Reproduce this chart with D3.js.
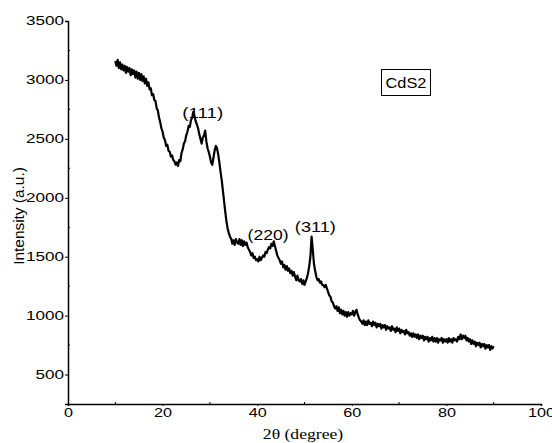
<!DOCTYPE html>
<html>
<head>
<meta charset="utf-8">
<script src="https://cdn.jsdelivr.net/npm/d3@7"></script>
<style>
  body { margin: 0; background: #fff; }
  svg { display: block; }
  text { font-family: "Liberation Sans", Arial, sans-serif; fill: #000; }
</style>
</head>
<body>
<svg id="chart" width="552" height="443"></svg>
<script>
// XRD pattern of CdS2, one row per degree (x.00, x.25, x.50, x.75)
const pattern = [
  [10.00, 3160], [10.25, 3120], [10.50, 3170], [10.75, 3100],
  [11.00, 3150], [11.25, 3090], [11.50, 3130], [11.75, 3080],
  [12.00, 3120], [12.25, 3060], [12.50, 3110], [12.75, 3070],
  [13.00, 3100], [13.25, 3040], [13.50, 3090], [13.75, 3050],
  [14.00, 3080], [14.25, 3020], [14.50, 3070], [14.75, 3010],
  [15.00, 3060], [15.25, 3000], [15.50, 3050], [15.75, 2990],
  [16.00, 3030], [16.25, 2970], [16.50, 3010], [16.75, 2950],
  [17.00, 2980], [17.25, 2920], [17.50, 2930], [17.75, 2870],
  [18.00, 2880], [18.25, 2830], [18.50, 2820], [18.75, 2760],
  [19.00, 2740], [19.25, 2680], [19.50, 2640], [19.75, 2590],
  [20.00, 2560], [20.25, 2510], [20.50, 2490], [20.75, 2440],
  [21.00, 2450], [21.25, 2400], [21.50, 2390], [21.75, 2350],
  [22.00, 2360], [22.25, 2320], [22.50, 2310], [22.75, 2280],
  [23.00, 2300], [23.25, 2270], [23.50, 2320], [23.75, 2310],
  [24.00, 2380], [24.25, 2410], [24.50, 2460], [24.75, 2480],
  [25.00, 2530], [25.25, 2560], [25.50, 2610], [25.75, 2600],
  [26.00, 2660], [26.25, 2680], [26.50, 2730], [26.75, 2690],
  [27.00, 2650], [27.25, 2620], [27.50, 2590], [27.75, 2540],
  [28.00, 2500], [28.25, 2460], [28.50, 2510], [28.75, 2530],
  [29.00, 2570], [29.25, 2480], [29.50, 2420], [29.75, 2390],
  [30.00, 2350], [30.25, 2300], [30.50, 2280], [30.75, 2340],
  [31.00, 2400], [31.25, 2440], [31.50, 2420], [31.75, 2370],
  [32.00, 2300], [32.25, 2220], [32.50, 2150], [32.75, 2060],
  [33.00, 1970], [33.25, 1880], [33.50, 1800], [33.75, 1740],
  [34.00, 1700], [34.25, 1670], [34.50, 1650], [34.75, 1610],
  [35.00, 1640], [35.25, 1600], [35.50, 1650], [35.75, 1620],
  [36.00, 1610], [36.25, 1650], [36.50, 1600], [36.75, 1640],
  [37.00, 1590], [37.25, 1630], [37.50, 1600], [37.75, 1620],
  [38.00, 1580], [38.25, 1560], [38.50, 1540], [38.75, 1510],
  [39.00, 1530], [39.25, 1490], [39.50, 1500], [39.75, 1470],
  [40.00, 1480], [40.25, 1460], [40.50, 1500], [40.75, 1470],
  [41.00, 1490], [41.25, 1510], [41.50, 1500], [41.75, 1540],
  [42.00, 1530], [42.25, 1560], [42.50, 1580], [42.75, 1570],
  [43.00, 1610], [43.25, 1590], [43.50, 1630], [43.75, 1590],
  [44.00, 1550], [44.25, 1510], [44.50, 1490], [44.75, 1470],
  [45.00, 1440], [45.25, 1460], [45.50, 1410], [45.75, 1430],
  [46.00, 1390], [46.25, 1420], [46.50, 1380], [46.75, 1400],
  [47.00, 1360], [47.25, 1380], [47.50, 1340], [47.75, 1370],
  [48.00, 1330], [48.25, 1300], [48.50, 1340], [48.75, 1300],
  [49.00, 1290], [49.25, 1310], [49.50, 1270], [49.75, 1300],
  [50.00, 1260], [50.25, 1290], [50.50, 1320], [50.75, 1360],
  [51.00, 1420], [51.25, 1500], [51.50, 1670], [51.75, 1560],
  [52.00, 1440], [52.25, 1380], [52.50, 1330], [52.75, 1300],
  [53.00, 1310], [53.25, 1280], [53.50, 1290], [53.75, 1260],
  [54.00, 1260], [54.25, 1240], [54.50, 1260], [54.75, 1230],
  [55.00, 1200], [55.25, 1170], [55.50, 1160], [55.75, 1120],
  [56.00, 1110], [56.25, 1080], [56.50, 1060], [56.75, 1080],
  [57.00, 1040], [57.25, 1070], [57.50, 1020], [57.75, 1050],
  [58.00, 1010], [58.25, 1040], [58.50, 1000], [58.75, 1030],
  [59.00, 990], [59.25, 1030], [59.50, 1000], [59.75, 1020],
  [60.00, 1010], [60.25, 1040], [60.50, 1000], [60.75, 1030],
  [61.00, 1050], [61.25, 1010], [61.50, 980], [61.75, 960],
  [62.00, 950], [62.25, 930], [62.50, 960], [62.75, 920],
  [63.00, 950], [63.25, 920], [63.50, 960], [63.75, 930],
  [64.00, 940], [64.25, 910], [64.50, 950], [64.75, 920],
  [65.00, 940], [65.25, 900], [65.50, 930], [65.75, 910],
  [66.00, 930], [66.25, 890], [66.50, 920], [66.75, 900],
  [67.00, 920], [67.25, 880], [67.50, 910], [67.75, 890],
  [68.00, 900], [68.25, 870], [68.50, 910], [68.75, 880],
  [69.00, 890], [69.25, 860], [69.50, 900], [69.75, 870],
  [70.00, 890], [70.25, 850], [70.50, 880], [70.75, 860],
  [71.00, 870], [71.25, 840], [71.50, 880], [71.75, 850],
  [72.00, 860], [72.25, 830], [72.50, 850], [72.75, 820],
  [73.00, 850], [73.25, 820], [73.50, 840], [73.75, 810],
  [74.00, 840], [74.25, 800], [74.50, 830], [74.75, 810],
  [75.00, 830], [75.25, 790], [75.50, 820], [75.75, 800],
  [76.00, 820], [76.25, 780], [76.50, 810], [76.75, 790],
  [77.00, 820], [77.25, 780], [77.50, 810], [77.75, 780],
  [78.00, 810], [78.25, 770], [78.50, 800], [78.75, 790],
  [79.00, 810], [79.25, 770], [79.50, 800], [79.75, 780],
  [80.00, 800], [80.25, 770], [80.50, 810], [80.75, 780],
  [81.00, 800], [81.25, 770], [81.50, 810], [81.75, 790],
  [82.00, 800], [82.25, 780], [82.50, 820], [82.75, 800],
  [83.00, 840], [83.25, 800], [83.50, 830], [83.75, 810],
  [84.00, 830], [84.25, 790], [84.50, 810], [84.75, 780],
  [85.00, 800], [85.25, 760], [85.50, 790], [85.75, 760],
  [86.00, 780], [86.25, 740], [86.50, 770], [86.75, 750],
  [87.00, 770], [87.25, 730], [87.50, 760], [87.75, 740],
  [88.00, 760], [88.25, 720], [88.50, 750], [88.75, 730],
  [89.00, 750], [89.25, 710], [89.50, 740], [89.75, 720],
  [90.00, 740]
];

const xTicks = [0, 20, 40, 60, 80, 100];
const xMinor = [10, 30, 50, 70, 90];
const yTicks = [500, 1000, 1500, 2000, 2500, 3000, 3500];
const yMinor = [750, 1250, 1750, 2250, 2750, 3250];

const peaks = [
  { label: "(111)", x: 28.5, y: 2677 },
  { label: "(220)", x: 42.3, y: 1642 },
  { label: "(311)", x: 52.3, y: 1710 }
];

const svg = d3.select("#chart");
const x = d3.scaleLinear().domain([0, 100]).range([68, 541]);
const y = d3.scaleLinear().domain([250, 3500]).range([404, 21]);

// stretch glyphs a bit, the source picture is wider than tall
const stretch = (sel, perChar) => sel.each(function () {
  const t = d3.select(this);
  t.attr("textLength", t.text().length * perChar).attr("lengthAdjust", "spacingAndGlyphs");
});

// axes
const xAxis = svg.append("g").attr("transform", `translate(0,${y(250)})`)
  .call(d3.axisBottom(x).tickValues(xTicks).tickSize(2).tickPadding(2).tickFormat(d3.format("d")));
xAxis.select(".domain").attr("stroke-width", 1.5);
xAxis.selectAll("text").attr("font-size", 12).call(stretch, 9);
xAxis.selectAll(".minor").data(xMinor).enter().append("line")
  .attr("x1", d => x(d)).attr("x2", d => x(d)).attr("y1", 0).attr("y2", -2).attr("stroke", "#000");

const yAxis = svg.append("g").attr("transform", `translate(${x(0)},0)`)
  .call(d3.axisLeft(y).tickValues(yTicks).tickSize(3).tickPadding(1).tickFormat(d3.format("d")));
yAxis.select(".domain").attr("stroke-width", 1.5);
yAxis.selectAll("text").attr("font-size", 12).call(stretch, 9.5);
yAxis.selectAll(".minor").data(yMinor).enter().append("line")
  .attr("x1", 0).attr("x2", 2).attr("y1", d => y(d)).attr("y2", d => y(d)).attr("stroke", "#000");

// axis titles
svg.append("text").attr("x", 303).attr("y", 439).attr("text-anchor", "middle")
  .style("font-family", "'Liberation Serif', 'Times New Roman', serif").attr("font-size", 14)
  .text("2θ (degree)").call(stretch, 7.3);
svg.append("text").attr("transform", "translate(24,216) rotate(-90)")
  .attr("text-anchor", "middle").attr("font-size", 14)
  .text("Intensity (a.u.)").call(stretch, 6.1);

// pattern
const line = d3.line().x(d => x(d[0])).y(d => y(d[1]));
svg.append("path").datum(pattern).attr("d", line)
  .attr("fill", "none").attr("stroke", "#000").attr("stroke-width", 2.2).attr("stroke-linejoin", "round");

// peak labels
svg.selectAll(".peak").data(peaks).enter().append("text")
  .attr("x", d => x(d.x)).attr("y", d => y(d.y)).attr("text-anchor", "middle")
  .attr("font-size", 15).text(d => d.label).call(stretch, 8.2);

// sample box
svg.append("rect").attr("x", 381.5).attr("y", 69.5).attr("width", 49).attr("height", 26)
  .attr("fill", "#fff").attr("stroke", "#000").attr("stroke-width", 1);
svg.append("text").attr("x", 406).attr("y", 88).attr("text-anchor", "middle")
  .attr("font-size", 14).text("CdS2").call(stretch, 10.2);
</script>
</body>
</html>
